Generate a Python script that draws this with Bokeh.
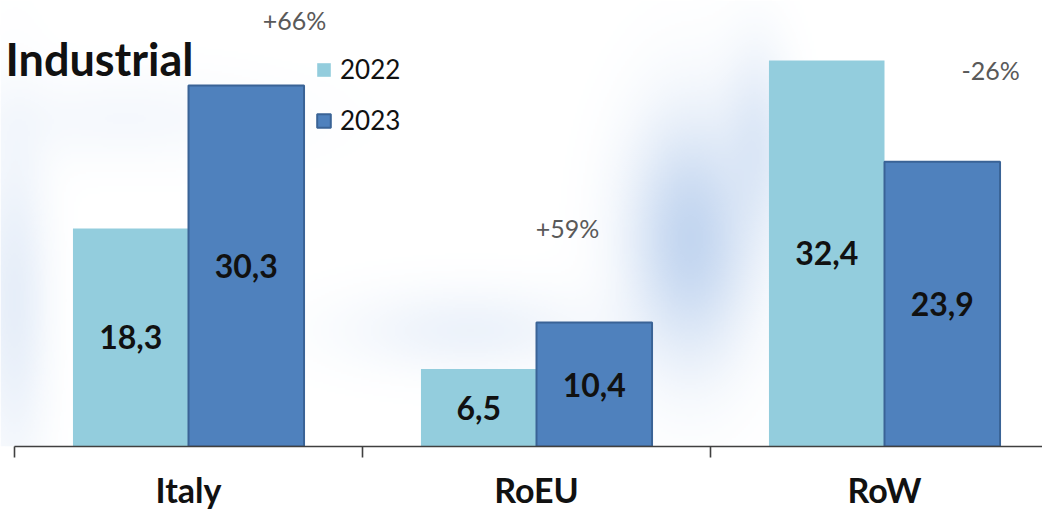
import numpy as np
from bokeh.plotting import figure
from bokeh.models import (Range1d, FixedTicker, Legend, LegendItem,
                          ColumnDataSource, Label, LabelSet)
from bokeh.core.properties import value
from bokeh.embed import file_html
from bokeh.resources import INLINE

# ---------------- data ----------------
categories = ["Italy", "RoEU", "RoW"]
series_names = ["2022", "2023"]
values_2022 = [18.3, 6.5, 32.4]
values_2023 = [30.3, 10.4, 23.9]
changes = ["+66%", "+59%", "-26%"]
title_text = "Industrial"

# ---------------- layout ----------------
W, H = 1042, 514
FB = 68
PX_PER_CAT = 348.0
PX_PER_UNIT = 11.914
frame_w = W
frame_h = H - FB
x_start = -0.5 - 14 / PX_PER_CAT
x_end = x_start + frame_w / PX_PER_CAT
y_end = frame_h / PX_PER_UNIT
bar_w = 0.332

FONT = value("Lato")

p = figure(width=W, height=H, output_backend="svg", toolbar_location=None,
           x_range=Range1d(x_start, x_end), y_range=Range1d(0, y_end),
           y_axis_location=None,
           min_border_left=0, min_border_right=0, min_border_top=0,
           min_border_bottom=FB,
           background_fill_color="white", border_fill_color="white")
p.outline_line_color = None
p.grid.visible = False

# ---------------- soft blue haze background (decoration) ----------------
# (centre x px, centre y px from top, sigma x, sigma y, strength)
haze = [
    (690, 238, 44, 85, 0.72),
    (757, 140, 24, 65, 0.35),
    (470, 330, 90, 30, 0.22),
    (14, 300, 24, 115, 0.30),
    (125, 118, 110, 32, 0.12),
]
res = 2
nx, ny = int(frame_w / res), int(frame_h / res)
fx = (np.arange(nx) + 0.5) * res
fy = frame_h - (np.arange(ny) + 0.5) * res
X, Y = np.meshgrid(fx, fy)
trans = np.ones_like(X)
for cx, cy, sx, sy, a in haze:
    trans *= 1 - a * np.exp(-((X - cx) / sx) ** 2 / 2 - ((Y - cy) / sy) ** 2 / 2)
alpha = 1 - trans
img = np.empty((ny, nx), dtype=np.uint32)
view = img.view(dtype=np.uint8).reshape((ny, nx, 4))
view[..., 0] = 172
view[..., 1] = 198
view[..., 2] = 234
view[..., 3] = np.clip(alpha * 255, 0, 255).astype(np.uint8)
p.image_rgba(image=[img], x=x_start, y=0, dw=nx * res / PX_PER_CAT,
             dh=ny * res / PX_PER_UNIT)

# ---------------- bars ----------------
def fmt(v):
    return f"{v:.1f}".replace(".", ",")

x_c = np.arange(len(categories), dtype=float)
src = ColumnDataSource(dict(
    cat=categories,
    xc=x_c,
    x22=x_c - bar_w / 2, x23=x_c + bar_w / 2,
    v22=values_2022, v23=values_2023,
    h22=[v / 2 for v in values_2022], h23=[v / 2 for v in values_2023],
    l22=[fmt(v) for v in values_2022], l23=[fmt(v) for v in values_2023],
))

r22 = p.vbar(x="x22", top="v22", width=bar_w, source=src,
             fill_color="#93CDDD", line_color=None)
r23 = p.vbar(x="x23", top="v23", width=bar_w, source=src,
             fill_color="#4F81BD", line_color="#3A6396", line_width=2)

for xcol, ycol, tcol in (("x22", "h22", "l22"), ("x23", "h23", "l23")):
    p.text(x=xcol, y=ycol, text=tcol, source=src, text_align="center",
           text_baseline="middle", text_font=FONT, text_font_style="bold",
           text_font_size="32px", text_color="#111111")

# ---------------- percent change annotations ----------------
pct_x = [0.305, 1.089, 2.305]
pct_y = [35.76, 18.33, 31.56]
pct_src = ColumnDataSource(dict(x=pct_x, y=pct_y, t=changes))
p.add_layout(LabelSet(x="x", y="y", text="t", source=pct_src,
                      text_align="center", text_baseline="middle",
                      text_font=FONT, text_font_size="25px",
                      text_color="#595959"))

# ---------------- x axis ----------------
ax = p.xaxis[0]
ax.ticker = FixedTicker(ticks=list(x_c),
                        minor_ticks=[i - 0.5 for i in range(len(categories) + 1)])
ax.bounds = (-0.5, x_end)
ax.major_label_overrides = {i: c for i, c in enumerate(categories)}
ax.major_tick_out = 11
ax.major_tick_in = 0
ax.major_tick_line_color = None
ax.minor_tick_out = 11
ax.minor_tick_in = 0
ax.minor_tick_line_color = "#404040"
ax.minor_tick_line_width = 1.6
ax.axis_line_color = "#404040"
ax.axis_line_width = 1.6
ax.major_label_standoff = 11
ax.major_label_text_font = "Lato"
ax.major_label_text_font_style = "bold"
ax.major_label_text_font_size = "34px"
ax.major_label_text_color = "#111111"

# ---------------- title ----------------
p.add_layout(Label(x=x_start + 5 / PX_PER_CAT, y=(frame_h - 58) / PX_PER_UNIT,
                   text=title_text, text_align="left",
                   text_baseline="alphabetic", text_font="Lato",
                   text_font_style="bold", text_font_size="45px",
                   text_color="#111111"))

# ---------------- legend ----------------
legend = Legend(items=[LegendItem(label=series_names[0], renderers=[r22]),
                       LegendItem(label=series_names[1], renderers=[r23])],
                location=(315, 310), orientation="vertical",
                background_fill_alpha=0, border_line_alpha=0,
                padding=0, margin=0, glyph_width=17, glyph_height=17,
                label_standoff=8, spacing=19,
                label_text_font="Lato", label_text_font_size="26px",
                label_text_color="#111111")
p.add_layout(legend)

open("out.html", "w").write(file_html(p, INLINE))
